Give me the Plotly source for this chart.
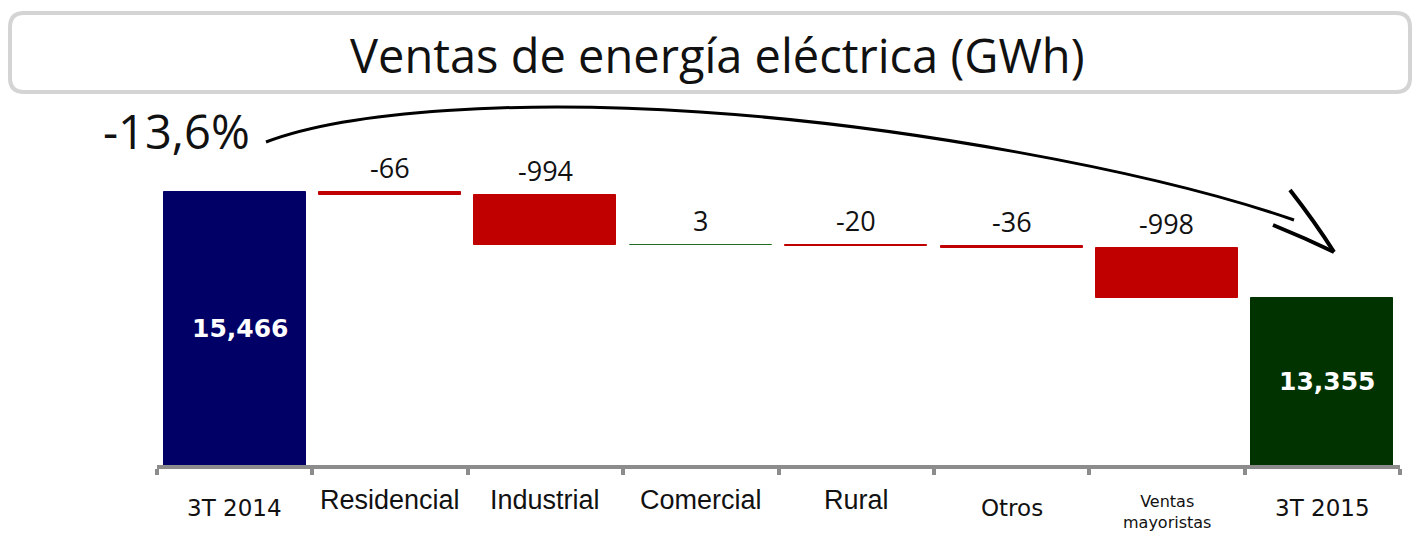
import plotly.graph_objects as go

# ---- data ----
categories = ["3T 2014", "Residencial", "Industrial", "Comercial", "Rural",
              "Otros", "Ventas mayoristas", "3T 2015"]
tick_labels = ["3T 2014", "Residencial", "Industrial", "Comercial", "Rural",
               "Otros", "Ventas<br>mayoristas", "3T 2015"]
start_value = 15466
changes = [-66, -994, 3, -20, -36, -998]
end_value = 13355
change_labels = ["-66", "-994", "3", "-20", "-36", "-998"]
total_labels = ["15,466", "13,355"]
title_text = "Ventas de energía eléctrica (GWh)"
growth_label = "-13,6%"

# ---- styling ----
W, H = 1420, 533
ML, MR, MT, MB = 157, 20, 110, 68
Y_RANGE = [10029, 17099]
NAVY = "#000066"
RED = "#C00000"
GREEN_UP = "#1F6B1F"
DARK_GREEN = "#003300"
AXIS_GRAY = "#8C8C8C"

PW = W - ML - MR
PH = H - MT - MB


def px(x, y):
    """pixel -> paper coordinates (for decorations only)"""
    return (x - ML) / PW, (H - MB - y) / PH


def pt(x, y):
    a, b = px(x, y)
    return f"{a:.5f},{b:.5f}"


# waterfall geometry derived from the data
bases = [0]
values = [start_value]
colors = [NAVY]
cum = start_value
for c in changes:
    bases.append(cum)
    values.append(c)
    colors.append(RED if c < 0 else GREEN_UP)
    cum += c
bases.append(0)
values.append(end_value)
colors.append(DARK_GREEN)

fig = go.Figure()
fig.add_trace(go.Bar(
    x=categories, y=values, base=bases,
    marker=dict(color=colors, line=dict(color=colors, width=1)),
    width=0.914, hoverinfo="skip", showlegend=False,
))

annotations = []
# change labels above each floating bar
for i, (c, lab) in enumerate(zip(changes, change_labels)):
    b = bases[i + 1]
    top = max(b, b + c)
    annotations.append(dict(
        x=categories[i + 1], y=top, xref="x", yref="y", text=lab,
        showarrow=False, yanchor="bottom", yshift=4,
        font=dict(family="Open Sans", size=27, color="#111111"),
    ))
# total labels inside the first and last bars
for idx, val, lab in [(0, start_value, total_labels[0]), (len(categories) - 1, end_value, total_labels[1])]:
    annotations.append(dict(
        x=categories[idx], y=(Y_RANGE[0] + val) / 2, xref="x", yref="y", text=f"<b>{lab}</b>",
        showarrow=False, xshift=5,
        font=dict(family="DejaVu Sans", size=25, color="white"),
    ))

# category labels (mixed fonts as in the reference)
label_styles = [
    ("DejaVu Sans", 23, 508), ("Liberation Sans", 27, 500), ("Liberation Sans", 27, 500),
    ("Liberation Sans", 27, 500), ("Liberation Sans", 27, 500), ("DejaVu Sans", 23, 508),
    ("DejaVu Sans", 16, 512), ("DejaVu Sans", 23, 508),
]
for cat, lab, (fam, size, yc) in zip(categories, tick_labels, label_styles):
    annotations.append(dict(
        x=cat, y=px(0, yc)[1], xref="x", yref="paper", text=lab,
        showarrow=False, yanchor="middle",
        font=dict(family=fam, size=size, color="#111111"),
    ))

# title and growth label
annotations.append(dict(
    x=px(717, 0)[0], y=px(0, 55)[1], xref="paper", yref="paper", text=title_text,
    showarrow=False, yanchor="middle", xanchor="center",
    font=dict(family="Open Sans", size=47, color="#111111"),
))
annotations.append(dict(
    x=px(176, 0)[0], y=px(0, 131)[1], xref="paper", yref="paper", text=growth_label,
    showarrow=False, yanchor="middle", xanchor="center",
    font=dict(family="Open Sans", size=47, color="#111111"),
))

shapes = []
# rounded title box
x0, y0, x1, y1, r = 10, 13, 1410, 92, 14
box = (f"M {pt(x0 + r, y0)} L {pt(x1 - r, y0)} Q {pt(x1, y0)} {pt(x1, y0 + r)} "
       f"L {pt(x1, y1 - r)} Q {pt(x1, y1)} {pt(x1 - r, y1)} "
       f"L {pt(x0 + r, y1)} Q {pt(x0, y1)} {pt(x0, y1 - r)} "
       f"L {pt(x0, y0 + r)} Q {pt(x0, y0)} {pt(x0 + r, y0)} Z")
shapes.append(dict(type="path", path=box, xref="paper", yref="paper",
                   line=dict(color="#D4D4D4", width=4), fillcolor="rgba(0,0,0,0)", layer="above"))

# curved arrow
curve = (f"M {pt(266, 142)} C {pt(350, 110)} {pt(520, 100)} {pt(700, 112)} "
         f"C {pt(898, 125)} {pt(1150, 170)} {pt(1294, 220)}")
shapes.append(dict(type="path", path=curve, xref="paper", yref="paper",
                   line=dict(color="black", width=3), layer="above"))
head1 = f"M {pt(1290, 190)} Q {pt(1315, 222)} {pt(1334, 252)}"
head2 = f"M {pt(1273, 225)} Q {pt(1305, 238)} {pt(1334, 252)}"
for hp in (head1, head2):
    shapes.append(dict(type="path", path=hp, xref="paper", yref="paper",
                       line=dict(color="black", width=4), layer="above"))

fig.update_layout(
    width=W, height=H,
    margin=dict(l=ML, r=MR, t=MT, b=MB, pad=0),
    paper_bgcolor="white", plot_bgcolor="white",
    bargap=0,
    xaxis=dict(
        type="category", range=[-0.5, len(categories) - 0.5],
        showline=True, linecolor=AXIS_GRAY, linewidth=4,
        ticks="outside", tickson="boundaries", ticklen=6, tickwidth=4, tickcolor=AXIS_GRAY,
        showticklabels=False, showgrid=False, zeroline=False, fixedrange=True,
    ),
    yaxis=dict(range=Y_RANGE, visible=False, showgrid=False, zeroline=False, fixedrange=True),
    annotations=annotations,
    shapes=shapes,
    showlegend=False,
)

fig.write_html(
    "out.html",
    config={"displayModeBar": False},
    post_script="document.body.style.margin='0';document.body.style.padding='0';",
)
